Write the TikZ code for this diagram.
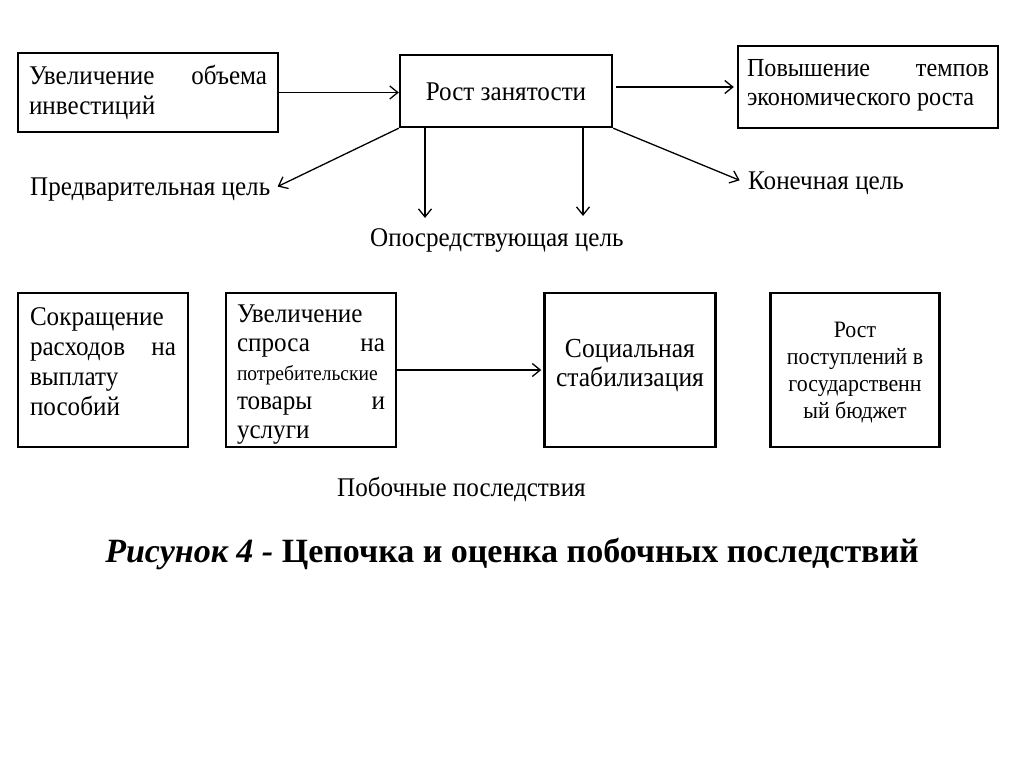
\documentclass[tikz,border=0pt]{standalone}
\usepackage{fontspec}
\setmainfont{Liberation Serif}[FakeStretch=0.93]
\newfontfamily\titlefont{Liberation Serif}
\usetikzlibrary{arrows.meta}
\newcommand\fsA{\fontsize{27}{30}\selectfont}
\newcommand\fsC{\fontsize{26}{29}\selectfont}
\newcommand\fsE{\fontsize{27}{29}\selectfont}
\newcommand\fsF{\fontsize{27.5}{29}\selectfont}
\newcommand\fsG{\fontsize{23.5}{27}\selectfont}
\newcommand\fsP{\fontsize{21}{29}\selectfont}
\newcommand\fsT{\titlefont\fontsize{34}{40}\selectfont}
\newcommand\tbox[4]{\parbox[c][#3][t]{#2}{\vspace*{#1}#4}}
\begin{document}
\begin{tikzpicture}[x=1pt,y=-1pt,
  box/.style={draw, line width=2.4pt, inner sep=0pt},
  arr/.style={line width=1.3pt, -{Straight Barb[length=8pt,width=13pt]}},
  lbl/.style={inner sep=0pt, font=\fsA, anchor=base west}]
\useasboundingbox (0,0) rectangle (1024,767);
% top row
\node[box, minimum width=260pt, minimum height=79pt] (A) at (148,92.5)
  {\tbox{11pt}{238pt}{79pt}{\fsA\strut\makebox[238pt][s]{Увеличение объема}\\инвестиций}};
\node[box, minimum width=212pt, minimum height=72pt] (B) at (506,91)
  {\tbox{25pt}{208pt}{72pt}{\centering\fsA\strut Рост занятости}};
\node[box, minimum width=260pt, minimum height=82pt] (C) at (868,87)
  {\tbox{10pt}{242pt}{82pt}{\fsC\strut\makebox[242pt][s]{Повышение темпов}\\экономического роста}};
% labels
\node[lbl] (pred) at (30,196) {Предварительная цель};
\node[lbl] (kon) at (748,190) {Конечная цель};
\node[lbl] (opo) at (370,247) {Опосредствующая цель};
% bottom row
\node[box, minimum width=170pt, minimum height=154pt] (D) at (103,370)
  {\tbox{11pt}{146pt}{154pt}{\fsA\strut Сокращение\\\makebox[146pt][s]{расходов на}\\выплату\\пособий}};
\node[box, minimum width=170pt, minimum height=154pt] (E) at (311,370)
  {\tbox{8.7pt}{148pt}{154pt}{\fsE\strut Увеличение\\\makebox[148pt][s]{спроса на}\\{\fsP потребительские}\\\makebox[148pt][s]{товары и}\\услуги}};
\node[box, minimum width=171pt, minimum height=154pt] (F) at (630,370)
  {\tbox{44pt}{165pt}{154pt}{\centering\fsF\strut Социальная\\стабилизация}};
\node[box, minimum width=169pt, minimum height=154pt] (G) at (855,370)
  {\tbox{26pt}{165pt}{154pt}{\centering\fsG\strut Рост\\поступлений в\\государственн\\ый бюджет}};
\node[lbl] (pob) at (337,496) {Побочные последствия};
\node[inner sep=0pt, anchor=base] (title) at (512,562)
  {\fsT\bfseries\itshape Рисунок 4 -\upshape\ Цепочка и оценка побочных последствий};
% connectors
\draw[arr] (A.east) -- (A.east -| B.west);
\draw[arr, shorten <=3pt, shorten >=3pt] (B.east |- C.west) -- (C.west);
\draw[arr, shorten >=8pt] (B.south west) -- (pred.east);
\draw[arr, shorten >=11pt] ([xshift=-81pt]B.south) -- ([xshift=-81pt]B.south |- opo.north);
\draw[arr, shorten >=13pt] ([xshift=77pt]B.south) -- ([xshift=77pt]B.south |- opo.north);
\draw[arr, shorten >=9pt] (B.south east) -- (kon.west);
\draw[arr, shorten >=2pt] (E.east) -- (F.west);
\end{tikzpicture}
\end{document}
